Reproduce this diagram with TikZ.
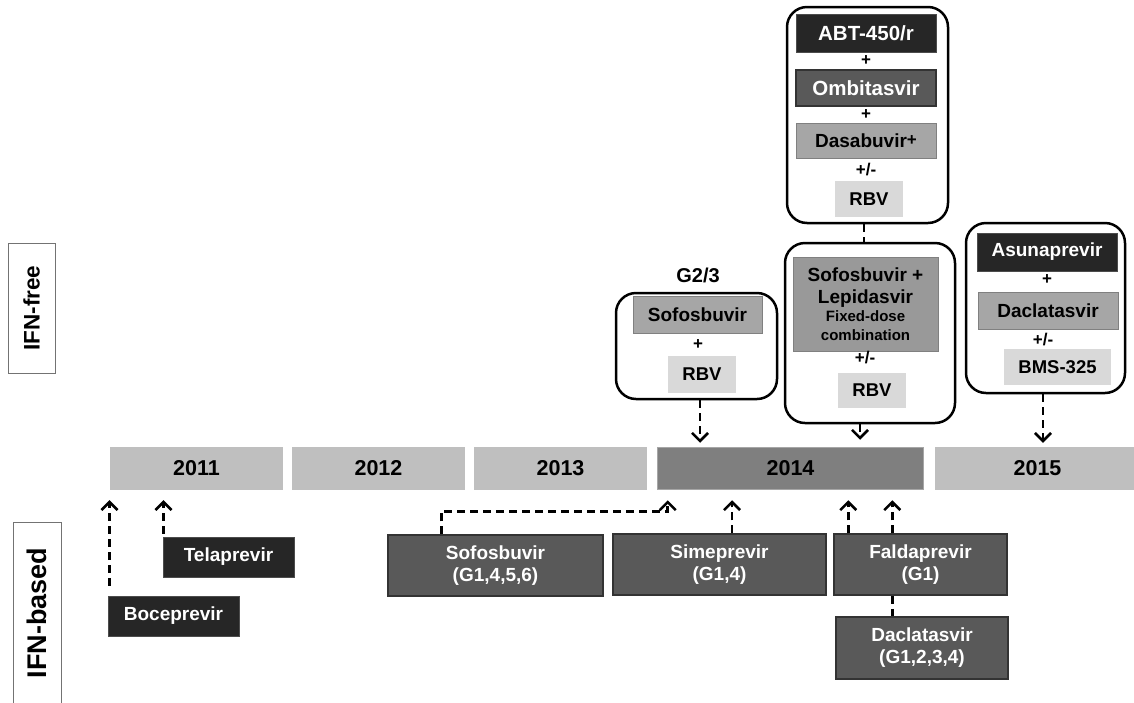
\documentclass[tikz,border=0pt]{standalone}
\usepackage{fontspec}
\setmainfont{Liberation Sans}
\usetikzlibrary{arrows.meta,calc}
\definecolor{yrlight}{HTML}{BFBFBF}
\definecolor{yrdark}{HTML}{7F7F7F}
\definecolor{boxdark}{HTML}{262626}
\definecolor{boxmid}{HTML}{595959}
\definecolor{boxgray}{HTML}{A6A6A6}
\definecolor{boxlight}{HTML}{D9D9D9}
\tikzset{
  yr/.style={fill=yrlight, inner sep=0pt, font=\fontsize{21.5}{22}\selectfont\bfseries},
  darkbox/.style={fill=boxdark, draw=black!70, line width=1pt, text=white, inner sep=0pt, align=center, font=\fontsize{19}{22}\selectfont\bfseries},
  midbox/.style={fill=boxmid, draw=black!80, line width=1.5pt, text=white, inner sep=0pt, align=center, font=\fontsize{19}{22}\selectfont\bfseries},
  graybox/.style={fill=boxgray, draw=black!50, line width=1pt, inner sep=0pt, align=center, font=\fontsize{19}{22}\selectfont\bfseries},
  rbvbox/.style={fill=boxlight, inner sep=0pt, font=\fontsize{18.5}{22}\selectfont\bfseries},
  outer/.style={draw=black, line width=2.5pt, rounded corners=20pt, inner sep=0pt},
  plus/.style={inner sep=0pt, font=\fontsize{17}{18}\selectfont\bfseries},
  darr/.style={line width=2.8pt, dash pattern=on 8pt off 5pt, -{Straight Barb[length=8pt,width=16pt,line width=2.6pt]}},
  dline/.style={line width=2.8pt, dash pattern=on 8pt off 5pt},
  sidebox/.style={draw=black!55, line width=1pt, inner sep=0pt, rotate=90}
}
\begin{document}
\begin{tikzpicture}[x=1pt,y=-1pt]
\useasboundingbox (0,0) rectangle (1134,702);

% timeline
\node[yr, minimum width=173pt, minimum height=43pt] (y2011) at (196.5,468.5) {2011};
\node[yr, minimum width=173pt, minimum height=43pt] (y2012) at (378.5,468.5) {2012};
\node[yr, minimum width=173pt, minimum height=43pt] (y2013) at (560.5,468.5) {2013};
\node[yr, fill=yrdark, draw=black!35, line width=1.5pt, minimum width=266pt, minimum height=42pt] (y2014) at (790.5,468.5) {2014};
\node[yr, minimum width=205pt, minimum height=43pt] (y2015) at (1037.5,468.5) {2015};

% side labels
\node[sidebox, minimum width=130pt, minimum height=47pt, font=\fontsize{22.5}{24}\selectfont\bfseries] (ifnf) at (31.5,308) {IFN-free};
\node[rotate=90, inner sep=0pt, font=\fontsize{27}{28}\selectfont\bfseries] (ifnb) at (37,613) {IFN-based};
\draw[draw=black!55, line width=1pt] (13,712) -- (13,522) -- (61,522) -- (61,712);

% IFN-based boxes
\node[darkbox, minimum width=131pt, minimum height=40pt] (bocep) at (173.5,616) {Boceprevir};
\node[darkbox, minimum width=131pt, minimum height=40pt] (telap) at (228.5,557) {Telaprevir};
\node[midbox, minimum width=215pt, minimum height=61pt] (sofo) at (495.5,565.5) {Sofosbuvir\\(G1,4,5,6)};
\node[midbox, minimum width=213pt, minimum height=61pt] (sime) at (719.5,564.5) {Simeprevir\\(G1,4)};
\node[midbox, minimum width=173pt, minimum height=61pt] (falda) at (920.5,564.5) {Faldaprevir\\(G1)};
\node[midbox, minimum width=172pt, minimum height=62pt] (dacla) at (922,648) {Daclatasvir\\(G1,2,3,4)};

% IFN-based connectors
\coordinate (b1) at ($(bocep.north west)+(2,0)$);
\draw[darr, shorten <=10pt, shorten >=10pt] (b1) -- (b1 |- y2011.south);
\coordinate (t1) at ($(telap.north west)+(1,0)$);
\draw[darr, shorten <=3pt, shorten >=10pt] (t1) -- (t1 |- y2011.south);
\coordinate (s1) at ($(sofo.north west)+(54,0)$);
\coordinate (s2) at ($(y2014.south west)+(11,0)$);
\draw[darr, shorten >=10pt] (s1) -- ++(0,-23) -| (s2);
\coordinate (m1) at ($(sime.north)+(12.5,0)$);
\draw[darr, shorten >=10pt] (m1) -- (m1 |- y2014.south);
\coordinate (f1) at ($(falda.north west)+(15,0)$);
\draw[darr, shorten >=10pt] (f1) -- (f1 |- y2014.south);
\coordinate (f2) at ($(falda.north west)+(59,0)$);
\draw[darr, shorten >=10pt] (f2) -- (f2 |- y2014.south);
\coordinate (fd) at ($(falda.south west)+(59,0)$);
\draw[dline] (fd) -- (fd |- dacla.north);

% G2/3 group
\node[inner sep=0pt, font=\fontsize{20}{22}\selectfont\bfseries] (g23lab) at (698,275) {G2/3};
\node[outer, minimum width=161pt, minimum height=106pt] (g23) at (696.5,346) {};
\node[graybox, minimum width=129pt, minimum height=37pt] (sofo2) at (697.5,314.5) {Sofosbuvir};
\node[plus] (g23p) at (698,345) {+};
\node[rbvbox, minimum width=68pt, minimum height=37pt] (rbv1) at (702,374.5) {RBV};
\coordinate (ga) at ($(g23.south)+(3.5,0)$);
\draw[darr, shorten >=4pt] (ga) -- (ga |- y2014.north);

% top group (ABT)
\node[outer, minimum width=161pt, minimum height=216pt] (top1) at (867.5,115) {};
\node[darkbox, minimum width=140pt, minimum height=38pt, font=\fontsize{20.5}{22}\selectfont\bfseries] (abt) at (866,33) {ABT-450/r};
\node[plus] (tp1) at (866,61) {+};
\node[midbox, minimum width=140pt, minimum height=36pt, font=\fontsize{20.5}{22}\selectfont\bfseries] (ombi) at (866,88) {Ombitasvir};
\node[plus] (tp2) at (866,115) {+};
\node[graybox, minimum width=140pt, minimum height=35pt] (dasa) at (866,140.5) {Dasabuvir\raisebox{2pt}{\fontsize{17}{17}\selectfont +}};
\node[plus] (tp3) at (866,170) {+/-};
\node[rbvbox, minimum width=68pt, minimum height=36pt] (rbv2) at (869,199) {RBV};

% second group (Sofosbuvir + Lepidasvir)
\node[outer, minimum width=170pt, minimum height=180pt] (top2) at (870,333) {};
\node[graybox, fill=black!40, minimum width=145pt, minimum height=94pt] (sl) at (865.5,304) {Sofosbuvir +\\Lepidasvir\\[-4pt]{\fontsize{15}{16}\selectfont Fixed-dose}\\[-3pt]{\fontsize{15}{16}\selectfont combination}};
\node[plus] (sp) at (865,358) {+/-};
\node[rbvbox, minimum width=68pt, minimum height=35pt] (rbv3) at (872,390.5) {RBV};
\coordinate (c1) at ($(top1.south)+(-3.5,0)$);
\draw[dline] (c1) -- (c1 |- top2.north);
\coordinate (c2) at ($(top2.south)+(-10,0)$);
\draw[darr, shorten >=7pt] (c2) -- (c2 |- y2014.north);

% right group (Asunaprevir)
\node[outer, minimum width=159pt, minimum height=170pt] (top3) at (1045.5,308) {};
\node[darkbox, minimum width=140pt, minimum height=38pt] (asun) at (1047,252) {Asunaprevir};
\node[plus] (rp1) at (1047,280) {+};
\node[graybox, minimum width=140pt, minimum height=37pt] (dacl2) at (1048,310.5) {Daclatasvir};
\node[plus] (rp2) at (1043,340) {+/-};
\node[rbvbox, minimum width=107pt, minimum height=36pt] (bms) at (1057.5,367) {BMS-325};
\coordinate (r1) at ($(top3.south)+(-2.5,0)$);
\draw[darr, shorten >=4pt] (r1) -- (r1 |- y2015.north);
\end{tikzpicture}
\end{document}
